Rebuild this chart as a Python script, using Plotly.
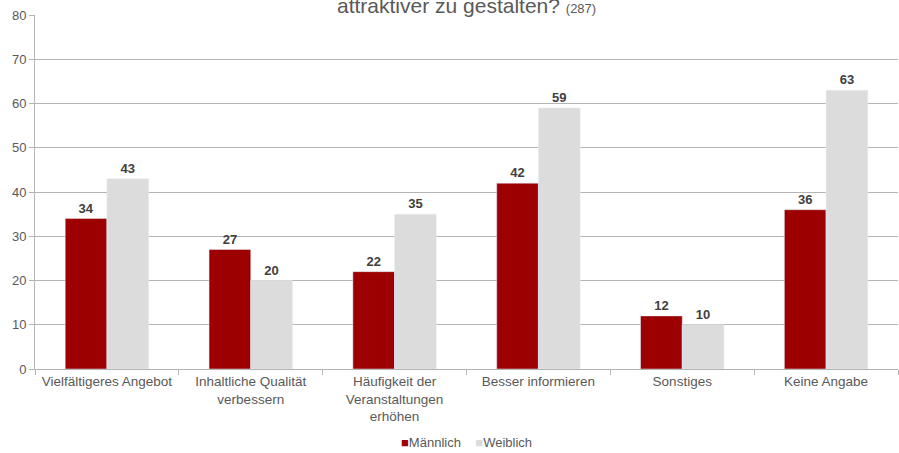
import plotly.graph_objects as go

categories = [
    "Vielfältigeres Angebot",
    "Inhaltliche Qualität<br>verbessern",
    "Häufigkeit der<br>Veranstaltungen<br>erhöhen",
    "Besser informieren",
    "Sonstiges",
    "Keine Angabe",
]
maennlich = [34, 27, 22, 42, 12, 36]
weiblich = [43, 20, 35, 59, 10, 63]
y_ticks = [0, 10, 20, 30, 40, 50, 60, 70, 80]

FONT = "Liberation Sans, Arial, sans-serif"
TXT = "#595959"
GRID = "#b4b4b4"
RED = "#9c0000"
LIGHT = "#dcdcdc"

fig = go.Figure()
fig.add_trace(go.Bar(
    name="Männlich", x=categories, y=maennlich, marker_color=RED,
    text=maennlich, textposition="outside", cliponaxis=False,
    textfont=dict(family=FONT, size=13, color="#404040", weight="bold"),
))
fig.add_trace(go.Bar(
    name="Weiblich", x=categories, y=weiblich, marker_color=LIGHT,
    text=weiblich, textposition="outside", cliponaxis=False,
    textfont=dict(family=FONT, size=13, color="#404040", weight="bold"),
))

fig.update_layout(
    width=899, height=453,
    margin=dict(l=35, r=1, t=15, b=84, autoexpand=False),
    paper_bgcolor="white", plot_bgcolor="white",
    barmode="group", bargap=0.42, bargroupgap=0,
    font=dict(family=FONT, size=13, color=TXT),
    showlegend=False,
)
fig.update_xaxes(
    showline=True, linecolor=GRID, linewidth=1,
    ticks="outside", tickson="boundaries", ticklen=5, tickcolor=GRID,
    tickfont=dict(size=13.5, color=TXT), showgrid=False, automargin=False,
)
fig.update_yaxes(
    range=[0, 80], tickvals=y_ticks,
    showline=True, linecolor=GRID, linewidth=1,
    ticks="outside", ticklen=5, tickcolor=GRID,
    showgrid=True, gridcolor=GRID, gridwidth=1, zeroline=False,
    tickfont=dict(size=13, color=TXT), automargin=False,
)

# Chart title, its upper line running past the top edge
fig.add_annotation(
    text="attraktiver zu gestalten? <span style='font-size:13px'>(287)</span>",
    xref="paper", yref="paper", x=0.5, y=1.0, xanchor="center", yanchor="bottom",
    yshift=-4, showarrow=False,
    font=dict(family=FONT, size=21, color=TXT),
)

# Series key below the axis
fig.add_annotation(
    text=(f"<span style='color:{RED}'>■</span>Männlich    "
          f"<span style='color:{LIGHT}'>■</span>Weiblich"),
    xref="paper", yref="paper", x=0.5, y=0, yshift=-73, xanchor="center", yanchor="middle",
    showarrow=False, font=dict(family=FONT, size=13, color=TXT),
)

fig.write_html("out.html")
